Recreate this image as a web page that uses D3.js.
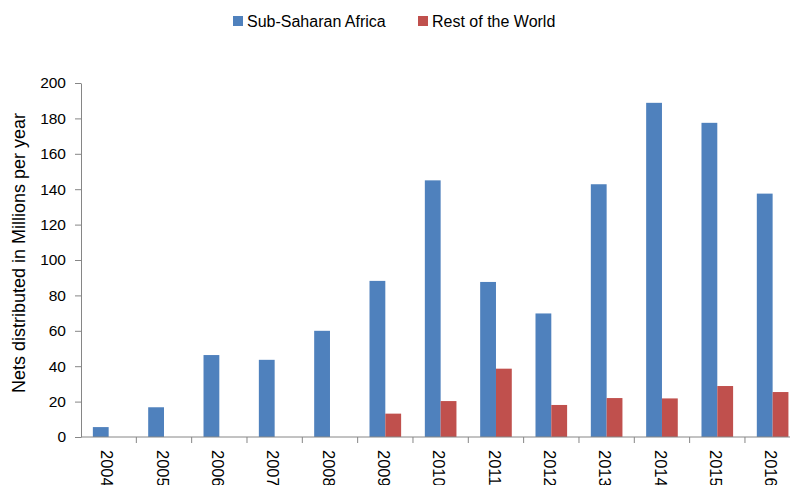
<!DOCTYPE html>
<html>
<head>
<meta charset="utf-8">
<script src="https://cdn.jsdelivr.net/npm/d3@7"></script>
<style>
  body { margin: 0; background: #fff; }
  text { font-family: "Liberation Sans", Arial, sans-serif; fill: #000; }
</style>
</head>
<body>
<div class="chart"></div>
<script>
// Nets distributed per year, millions
let years = ["2004", "2005", "2006", "2007", "2008", "2009", "2010", "2011", "2012", "2013", "2014", "2015", "2016"];
let seriesNames = ["Sub-Saharan Africa", "Rest of the World"];
let africa = [5.6, 16.8, 46.3, 43.6, 60, 88.2, 145, 87.6, 69.8, 142.8, 188.8, 177.5, 137.5];
let restOfWorld = [0, 0, 0, 0, 0, 13.2, 20.3, 38.6, 18.1, 22, 21.8, 28.8, 25.4];
let yTicks = [0, 20, 40, 60, 80, 100, 120, 140, 160, 180, 200];
let colors = ["#4F81BD", "#C0504D"];

let svgWidth = 790;
let svgHeight = 485;

// plot area runs past the right edge of the picture, as in the original
let margin = { top: 83, left: 81 };
let step = 55.33;
let width = step * years.length;
let height = 437 - margin.top;

let svg = d3.select(".chart")
  .append("svg")
  .attr("width", svgWidth)
  .attr("height", svgHeight);

let chartGroup = svg.append("g")
  .attr("transform", `translate(${margin.left}, ${margin.top})`);

let x = d3.scaleBand()
  .domain(years)
  .range([0, width])
  .padding(0);

let x1 = d3.scaleBand()
  .domain(seriesNames)
  .range([0, x.bandwidth()])
  .paddingInner(0)
  .paddingOuter(0.75);

let y = d3.scaleLinear()
  .domain([0, 200])
  .range([height, 0]);

let data = years.map((yr, i) => ({ year: yr, values: [africa[i], restOfWorld[i]] }));

// bars
let groups = chartGroup.selectAll(".yearGroup")
  .data(data)
  .enter()
  .append("g")
  .attr("class", "yearGroup")
  .attr("transform", d => `translate(${x(d.year)}, 0)`);

groups.selectAll("rect")
  .data(d => d.values.map((v, i) => ({ name: seriesNames[i], value: v, color: colors[i] })))
  .enter()
  .filter(d => d.value > 0)
  .append("rect")
  .attr("x", d => x1(d.name))
  .attr("width", x1.bandwidth())
  .attr("y", d => y(d.value))
  .attr("height", d => height - y(d.value))
  .attr("fill", d => d.color);

// y axis
let leftAxis = d3.axisLeft(y)
  .tickValues(yTicks)
  .tickSizeInner(6)
  .tickSizeOuter(0)
  .tickPadding(9);

let yAxis = chartGroup.append("g").call(leftAxis);
yAxis.select(".domain").attr("stroke", "#868686");
yAxis.selectAll(".tick line").attr("stroke", "#868686");
yAxis.selectAll(".tick text")
  .attr("font-size", "15.5px")
  .attr("font-family", "Liberation Sans, Arial, sans-serif")
  .attr("fill", "#000");

// x axis: line, ticks at category boundaries, rotated labels
let xAxis = chartGroup.append("g")
  .attr("transform", `translate(0, ${height})`);

xAxis.append("line")
  .attr("x1", 0)
  .attr("x2", width)
  .attr("stroke", "#868686");

xAxis.selectAll(".bound")
  .data(years.slice(1).concat(["end"]))
  .enter()
  .append("line")
  .attr("class", "bound")
  .attr("x1", d => d === "end" ? width : x(d))
  .attr("x2", d => d === "end" ? width : x(d))
  .attr("y1", 0)
  .attr("y2", 6)
  .attr("stroke", "#868686");

xAxis.selectAll(".xlabel")
  .data(years)
  .enter()
  .append("text")
  .attr("class", "xlabel")
  .attr("transform", d => `translate(${x(d) + x.bandwidth() / 2 - 1.5}, 13) rotate(90)`)
  .attr("dy", "0.35em")
  .attr("font-size", "16.5px")
  .text(d => d);

// y axis title
svg.append("text")
  .attr("transform", `translate(25, 253) rotate(-90)`)
  .attr("text-anchor", "middle")
  .attr("font-size", "18px")
  .text("Nets distributed in Millions per year");

// legend
let legendX = [233, 418];
let legend = svg.selectAll(".legendItem")
  .data(seriesNames)
  .enter()
  .append("g")
  .attr("class", "legendItem")
  .attr("transform", (d, i) => `translate(${legendX[i]}, 16)`);

legend.append("rect")
  .attr("width", 10)
  .attr("height", 10)
  .attr("fill", (d, i) => colors[i]);

legend.append("text")
  .attr("x", 14)
  .attr("y", 11)
  .attr("font-size", "16px")
  .text(d => d);
</script>
</body>
</html>
